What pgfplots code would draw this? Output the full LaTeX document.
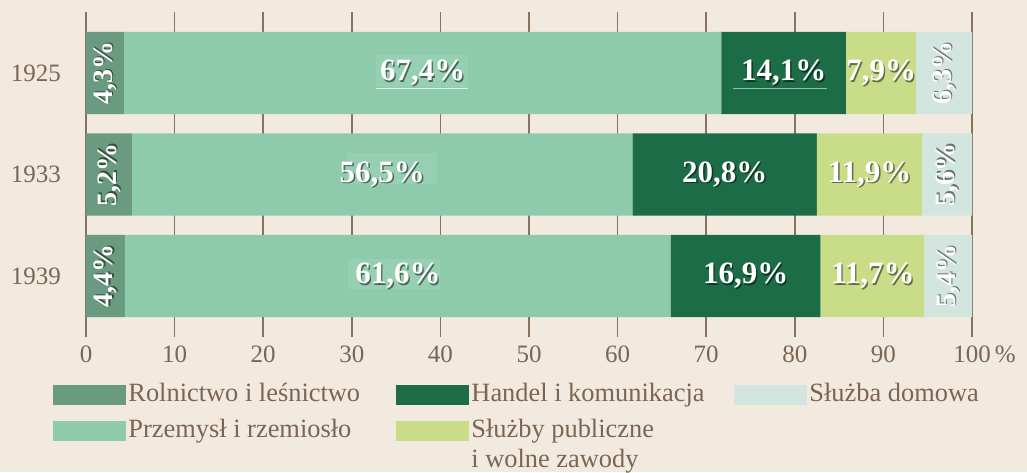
\documentclass[border=0pt]{standalone}
\usepackage{fontspec}
\setmainfont{Liberation Serif}
\usepackage{pgfplots}
\pgfplotsset{compat=1.18}

\definecolor{bgcol}{HTML}{F2EADF}
\definecolor{gridcol}{HTML}{8A7260}
\definecolor{txtcol}{HTML}{7A6652}
\definecolor{rol}{HTML}{6A9A80}
\definecolor{prz}{HTML}{8ECBAC}
\definecolor{han}{HTML}{1C6C48}
\definecolor{pub}{HTML}{C9DC87}
\definecolor{dom}{HTML}{D3E5DF}

\newcommand{\lbl}{\fontsize{15.5}{17}\selectfont\bfseries}
\newcommand{\rlbl}{\fontsize{14}{16}\selectfont\bfseries}
% labels with a soft dark shadow
\newcommand{\blab}[3]{%
  \node[text=black, opacity=0.5, font=\lbl, xshift=0.7pt, yshift=-0.7pt] at (axis cs:#1,#2) {#3};
  \node[text=white, font=\lbl] at (axis cs:#1,#2) {#3};}
\newcommand{\rlab}[3]{%
  \node[rotate=90, text=black, opacity=0.5, font=\rlbl, xshift=0.7pt, yshift=-0.7pt] at (axis cs:#1,#2) {#3};
  \node[rotate=90, text=white, font=\rlbl] at (axis cs:#1,#2) {#3};}

\begin{document}
\begin{tikzpicture}
\fill[bgcol] (-43pt,6pt) rectangle (470.5pt,-230pt);
\begin{axis}[
  at={(0,0)}, anchor=north west, name=ax,
  scale only axis, width=443pt, height=162.5pt,
  xbar stacked, reverse stacked plots=false, bar width=0.81,
  xmin=0, xmax=100, ymin=-0.6, ymax=2.6, y dir=reverse,
  ytick={0,1,2}, yticklabels={1925,1933,1939},
  xtick={0,10,20,30,40,50,60,70,80,90,100},
  xticklabels={0,10,20,30,40,50,60,70,80,90,100\rlap{\,\%}},
  major tick length=0pt,
  axis line style={draw=none},
  xmajorgrids, grid style={draw=gridcol, line width=0.8pt},
  tick label style={font=\fontsize{12.5}{14}\selectfont, text=txtcol},
  yticklabel style={xshift=-9pt},
  xticklabel style={yshift=-1pt},
  legend columns=3,
  legend image code/.code={\path[fill,draw=none,#1] (0pt,-5pt) rectangle (36.5pt,5pt);},
  legend style={at={(axis description cs:-0.0372,-0.141)}, anchor=north west,
    draw=none, fill=none, inner sep=0pt, row sep=6pt,
    font=\fontsize{13.2}{15}\selectfont, text=txtcol,
    nodes={inner sep=0pt, text height=9pt, text depth=3pt},
    cells={anchor=west}},
]
\addlegendimage{fill=rol}
\addlegendimage{fill=han}
\addlegendimage{fill=dom}
\addlegendimage{fill=prz}
\addlegendimage{fill=pub}
\legend{\makebox[135pt][l]{\hspace{1pt}Rolnictwo i leśnictwo},
  \makebox[132.5pt][l]{\hspace{1pt}Handel i komunikacja},
  \hspace{1pt}Służba domowa,
  \makebox[135pt][l]{\hspace{1pt}Przemysł i rzemiosło},
  {\hspace{1pt}\begin{tabular}[t]{@{}l@{}}Służby publiczne\\i wolne zawody\end{tabular}}}

\addplot[fill=rol, draw=none] coordinates {(4.3,0) (5.2,1) (4.4,2)};
\addplot[fill=prz, draw=none] coordinates {(67.4,0) (56.5,1) (61.6,2)};
\addplot[fill=han, draw=none] coordinates {(14.1,0) (20.8,1) (16.9,2)};
\addplot[fill=pub, draw=none] coordinates {(7.9,0) (11.9,1) (11.7,2)};
\addplot[fill=dom, draw=none] coordinates {(6.3,0) (5.6,1) (5.4,2)};

% lighter patches and faint underlines seen in the source
\fill[white!8!prz] (axis cs:32.7,-0.18) rectangle (axis cs:43.1,0.14);
\fill[white!8!prz] (axis cs:29.5,0.79) rectangle (axis cs:39.6,1.09);
\fill[white!8!prz] (axis cs:29.6,1.83) rectangle (axis cs:40.0,2.13);
\draw[white!70!prz, line width=0.6pt] (axis cs:32.7,0.15) -- (axis cs:43.1,0.15);
\draw[white!55!han, line width=0.6pt] (axis cs:73.0,0.15) -- (axis cs:83.6,0.15);

\rlab{2.15}{0}{4,3\%}
\blab{38.0}{0}{67,4\%}
\blab{78.75}{0}{14,1\%}
\blab{89.75}{0}{7,9\%}
\rlab{96.85}{0}{6,3\%}
\rlab{2.6}{1}{5,2\%}
\blab{33.45}{1}{56,5\%}
\blab{72.1}{1}{20,8\%}
\blab{88.45}{1}{11,9\%}
\rlab{97.2}{1}{5,6\%}
\rlab{2.2}{2}{4,4\%}
\blab{35.2}{2}{61,6\%}
\blab{74.45}{2}{16,9\%}
\blab{88.8}{2}{11,7\%}
\rlab{97.3}{2}{5,4\%}
\end{axis}
\pgfresetboundingbox
\useasboundingbox (-43pt,6pt) rectangle (470.5pt,-230pt);
\end{tikzpicture}
\end{document}
